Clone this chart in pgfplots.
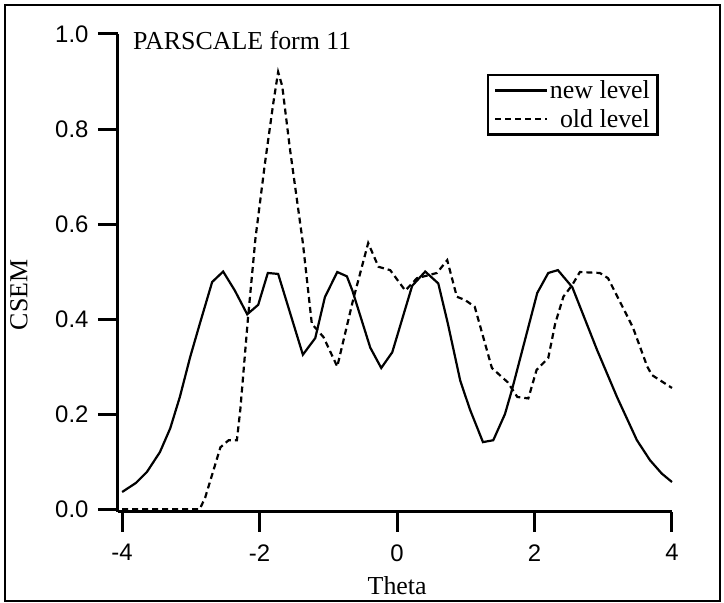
\documentclass[border=0pt]{standalone}
\usepackage{fontspec}
\setmainfont{Liberation Serif}
\newfontfamily\ticksans{Liberation Sans}
\usepackage{pgfplots}
\pgfplotsset{compat=1.18}
\begin{document}
\begin{tikzpicture}
\begin{axis}[
  scale only axis,
  width=554bp, height=478bp,
  xmin=-4.06, xmax=4, ymin=-0.006, ymax=1.0,
  axis x line=bottom, axis y line=left,
  axis line style={-, line width=3bp},
  tick align=outside,
  major tick length=20bp,
  every tick/.style={black, line width=3bp},
  xtick={-4,-2,0,2,4}, xticklabels={-4,-2,0,2,4},
  ytick={0,0.2,0.4,0.6,0.8,1.0}, yticklabels={0.0,0.2,0.4,0.6,0.8,1.0},
  tick label style={font=\ticksans\fontsize{24}{24}\selectfont},
  yticklabel style={xshift=-6bp},
  xticklabel style={yshift=-9bp},
  minor tick num=0,
  xlabel={Theta}, ylabel={CSEM},
  label style={font=\fontsize{26}{26}\selectfont},
  xlabel style={at={(rel axis cs:0.504,-0.155)}, anchor=center},
  ylabel style={at={(rel axis cs:-0.179,0.454)}, anchor=center, rotate=0},
  clip=false,
  legend cell align=right,
  legend style={at={(rel axis cs:0.668,0.914)}, anchor=north west, draw=none, name=leg,
    font=\fontsize{26}{28}\selectfont, inner xsep=6bp, inner ysep=4bp, row sep=6bp,
    nodes={inner sep=1.5bp}},
  legend image code/.code={\draw[#1] (0bp,0bp) -- (52bp,0bp);},
]
\addplot[black, line width=2.2bp] coordinates {
(-4.00,0.036) (-3.80,0.055) (-3.64,0.078) (-3.45,0.12) (-3.30,0.17) (-3.16,0.236)
(-3.01,0.32) (-2.87,0.39) (-2.69,0.478) (-2.53,0.50) (-2.36,0.46) (-2.18,0.41)
(-2.02,0.43) (-1.88,0.497) (-1.73,0.495) (-1.37,0.325) (-1.19,0.36) (-1.05,0.446)
(-0.87,0.499) (-0.73,0.49) (-0.65,0.46) (-0.39,0.34) (-0.23,0.297) (-0.07,0.33)
(0.22,0.47) (0.41,0.50) (0.60,0.475) (0.74,0.39) (0.92,0.27) (1.06,0.21) (1.25,0.141) (1.40,0.145)
(1.57,0.20) (1.67,0.25) (2.04,0.455) (2.20,0.497) (2.34,0.503) (2.55,0.467)
(2.91,0.335) (3.20,0.236) (3.49,0.145) (3.68,0.103) (3.85,0.075) (4.00,0.057)
};
\addlegendentry{new level}
\addplot[black, line width=2.2bp, dash pattern=on 6bp off 4bp] coordinates {
(-4.00,0.0) (-3.50,0.0) (-2.87,0.0) (-2.79,0.025) (-2.57,0.13) (-2.45,0.145)
(-2.33,0.145) (-2.28,0.21) (-2.17,0.40) (-2.06,0.57) (-1.92,0.73) (-1.80,0.855)
(-1.73,0.92) (-1.67,0.89) (-1.56,0.76) (-1.37,0.56) (-1.24,0.39) (-1.07,0.362)
(-0.87,0.30) (-0.64,0.44) (-0.42,0.56) (-0.27,0.51) (-0.10,0.503) (0.12,0.46)
(0.29,0.486) (0.58,0.497) (0.73,0.524) (0.87,0.447) (0.99,0.44) (1.13,0.426)
(1.38,0.297) (1.61,0.267) (1.75,0.236) (1.91,0.233) (2.03,0.293) (2.20,0.318)
(2.30,0.39) (2.42,0.447) (2.55,0.472) (2.66,0.499) (2.95,0.497) (3.07,0.486)
(3.43,0.383) (3.64,0.30) (3.71,0.282) (4.00,0.255)
};
\addlegendentry{old level}
\node[anchor=base west, font=\fontsize{26}{26}\selectfont, inner sep=0pt] at (rel axis cs:0.027,0.9665) {PARSCALE form 11};
\coordinate (f1) at (rel axis cs:-0.204,-0.186);
\coordinate (f2) at (rel axis cs:1.0866,1.0607);
\coordinate (b1) at (rel axis cs:-0.2130,-0.1904);
\coordinate (b2) at (rel axis cs:1.0939,1.0711);
\end{axis}
\draw[line width=2.5bp] (leg.south west) rectangle (leg.north east);
\draw[line width=2.5bp] (f1) rectangle (f2);
\pgfresetboundingbox
\path[use as bounding box] (b1) rectangle (b2);
\end{tikzpicture}
\end{document}
